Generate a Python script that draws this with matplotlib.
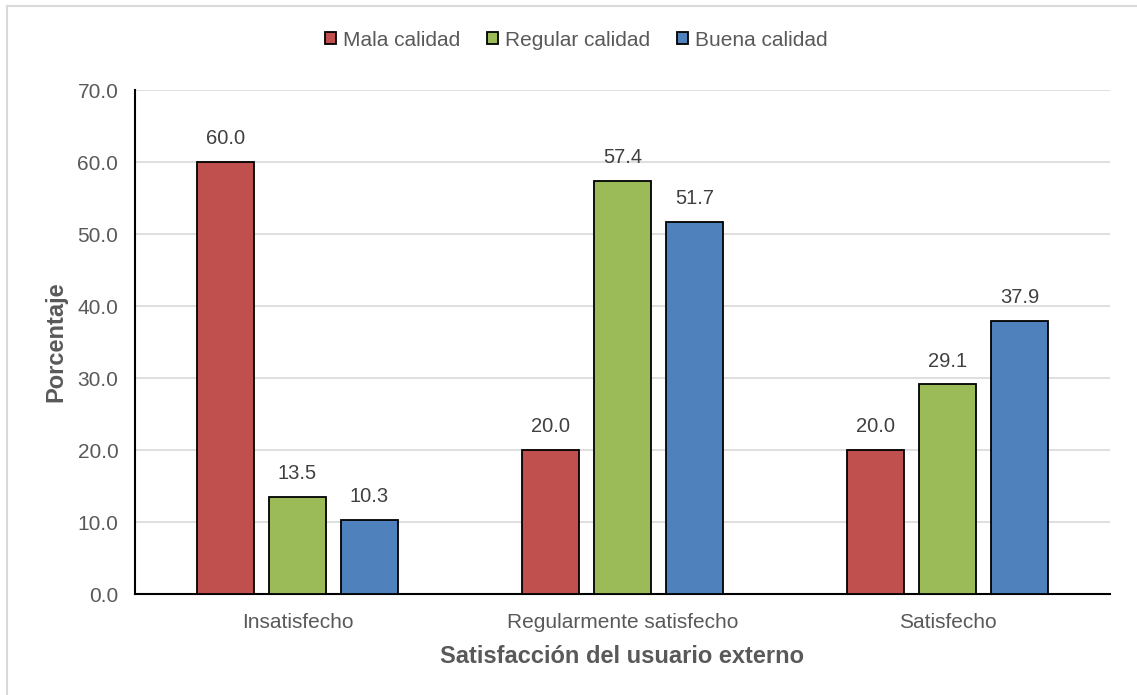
import matplotlib.pyplot as plt
from matplotlib.lines import Line2D
import numpy as np

plt.rcParams['font.family'] = ['Liberation Sans', 'DejaVu Sans']

# Data
categories = ['Insatisfecho', 'Regularmente satisfecho', 'Satisfecho']
series = ['Mala calidad', 'Regular calidad', 'Buena calidad']
mala = [60.0, 20.0, 20.0]
regular = [13.5, 57.4, 29.1]
buena = [10.3, 51.7, 37.9]
colors = ['#c0504d', '#9bbb59', '#4f81bd']
text_color = '#595959'

fig = plt.figure(figsize=(11.37, 6.95), dpi=100)
ax = fig.add_axes([135 / 1137, 1 - 594 / 695, 975 / 1137, 504 / 695])

# chart border (light gray frame on top/left)
fig.add_artist(Line2D([6.5 / 1137, 6.5 / 1137], [0, 1 - 5.5 / 695],
                      transform=fig.transFigure, color='#d9d9d9', lw=1.5))
fig.add_artist(Line2D([6.5 / 1137, 1], [1 - 5.5 / 695, 1 - 5.5 / 695],
                      transform=fig.transFigure, color='#d9d9d9', lw=1.5))

x = np.arange(len(categories))
width = 0.178
step = 0.2215
for i, (vals, name) in enumerate(zip([mala, regular, buena], series)):
    pos = x + (i - 1) * step
    bars = ax.bar(pos, vals, width, color=colors[i], edgecolor='black',
                  linewidth=1.3, label=name, zorder=3)
    for b, v in zip(bars, vals):
        ax.text(b.get_x() + b.get_width() / 2, v + 1.9, f'{v:.1f}',
                ha='center', va='bottom', fontsize=14.5, color='#404040')

ax.set_xlim(-0.5, 2.5)
ax.set_ylim(0, 70)
ax.set_yticks(np.arange(0, 71, 10))
ax.set_yticklabels([f'{t:.1f}' for t in np.arange(0, 71, 10)])
ax.set_xticks(x)
ax.set_xticklabels(categories)
ax.tick_params(axis='both', length=0, labelsize=15, labelcolor=text_color)
ax.tick_params(axis='y', pad=12)
ax.tick_params(axis='x', pad=14)
ax.yaxis.grid(True, color='#d9d9d9', linewidth=1.2, zorder=0)
ax.set_axisbelow(True)
for s in ['top', 'right']:
    ax.spines[s].set_visible(False)
ax.spines['left'].set_linewidth(1.5)
ax.spines['bottom'].set_linewidth(1.5)

ax.set_xlabel('Satisfacción del usuario externo', fontsize=17, fontweight='bold',
              color=text_color, labelpad=9)
ax.set_ylabel('Porcentaje', fontsize=17, fontweight='bold', color=text_color,
              labelpad=7)

leg = fig.legend(*ax.get_legend_handles_labels(), loc='center',
                 bbox_to_anchor=(576 / 1137, 1 - 40 / 695), ncol=3,
                 frameon=False, fontsize=15, handlelength=0.55, handleheight=0.55,
                 handletextpad=0.3, columnspacing=1.3)
for t in leg.get_texts():
    t.set_color(text_color)

fig.savefig('out.png', dpi=100)
